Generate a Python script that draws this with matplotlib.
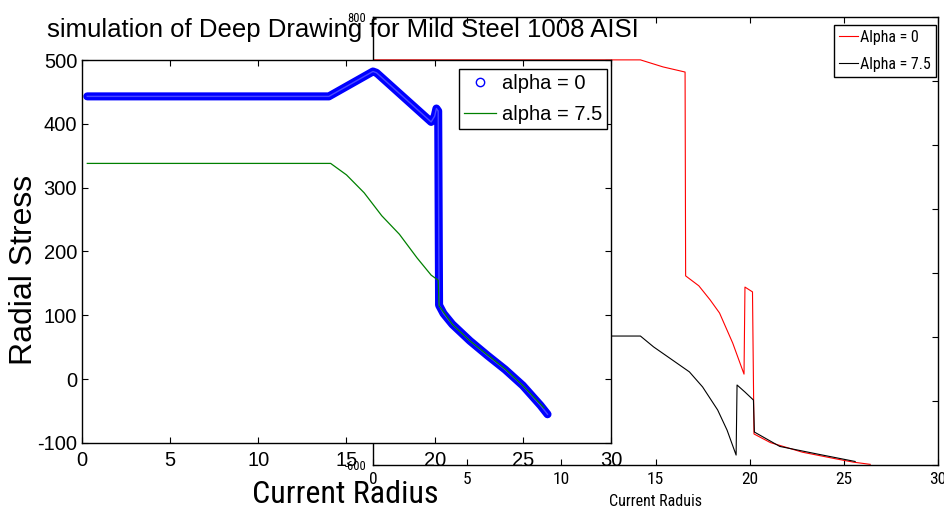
import matplotlib
matplotlib.use("Agg")
import matplotlib.pyplot as plt
from matplotlib.lines import Line2D
from matplotlib import font_manager as fm

# ---------------- data ----------------
# main axes, alpha = 0 (blue circles)
blue_x = [0.3, 14.0, 16.5, 16.7, 19.8, 20.0, 20.1, 20.2, 20.25, 20.5, 21.0, 22.0, 23.0, 24.0, 25.0, 26.0, 26.4]
blue_y = [443, 443, 482, 480, 403, 412, 424, 420, 116, 103, 86, 60, 37, 15, -10, -41, -55]
# main axes, alpha = 7.5 (green line)
green_x = [0.3, 14.1, 15.0, 16.0, 17.0, 18.0, 19.0, 19.8, 20.2, 20.25, 21.0, 22.0, 23.0, 24.0, 25.0, 26.0, 26.2]
green_y = [338, 338, 320, 292, 256, 227, 190, 163, 155, 115, 86, 60, 38, 16, -10, -39, -45]

# inset axes, Alpha = 0 (red)
red_x = [0.0, 14.2, 15.4, 16.57, 16.6, 17.3, 17.9, 18.4, 19.1, 19.7, 19.75, 20.15, 20.23, 21.1, 22.8, 24.6, 25.5, 26.4]
red_y = [666, 666, 644, 628, -9, -40, -84, -125, -219, -316, -44, -59, -503, -530, -560, -581, -591, -598]
# inset axes, Alpha = 7.5 (black)
black_x = [0.0, 14.2, 14.9, 15.9, 16.8, 17.5, 18.3, 18.8, 19.28, 19.33, 19.75, 20.2, 20.25, 21.6, 23.7, 25.6]
black_y = [-197, -197, -231, -272, -309, -356, -428, -491, -569, -350, -372, -397, -497, -542, -567, -589]

main_xticks = [0, 5, 10, 15, 20, 25, 30]
main_yticks = [-100, 0, 100, 200, 300, 400, 500]
inset_xticks = [0, 5, 10, 15, 20, 25, 30]
inset_yticks = [-600, -400, -200, 0, 200, 400, 600, 800]

title_text = "simulation of Deep Drawing for Mild Steel 1008 AISI"
main_xlabel = "Current Radius"
main_ylabel = "Radial Stress"
inset_xlabel = "Current Raduis"
main_labels = ["alpha = 0", "alpha = 7.5"]
inset_labels = ["Alpha = 0", "Alpha = 7.5"]


def pick(names):
    for n in names:
        try:
            fm.findfont(fm.FontProperties(family=n), fallback_to_default=False)
            return n
        except Exception:
            pass
    return "DejaVu Sans"


REG = pick(["Liberation Sans", "Arial", "DejaVu Sans"])
NAR = pick(["Liberation Sans Narrow", "Roboto Condensed", "DejaVu Sans Condensed", "Liberation Sans"])
plt.rcParams["font.family"] = [REG, "DejaVu Sans"]
plt.rcParams["axes.unicode_minus"] = False

W, H = 945, 512
fig = plt.figure(figsize=(W / 100, H / 100), dpi=100)
fig.patch.set_facecolor("white")

# ---------------- inset axes (behind) ----------------
ax2 = fig.add_axes([373 / W, 1 - 465 / H, 565 / W, 448 / H], zorder=1)
ax2.plot(red_x, red_y, color="#ff0000", lw=0.8)
ax2.plot(black_x, black_y, color="black", lw=0.8)
ax2.set_xlim(0, 30)
ax2.set_ylim(-600, 800)
ax2.set_xticks(inset_xticks)
ax2.set_yticks(inset_yticks)
ax2.tick_params(direction="in", length=4, width=0.8, top=True, right=True, pad=5)
for lab in ax2.get_xticklabels():
    lab.set_fontfamily([NAR, "DejaVu Sans"])
    lab.set_fontsize(12.5)
for lab in ax2.get_yticklabels():
    lab.set_fontfamily([NAR, "DejaVu Sans"])
    lab.set_fontsize(9)
for s in ax2.spines.values():
    s.set_linewidth(1.0)
ax2.set_xlabel(inset_xlabel, fontsize=11.5, family=[NAR, "DejaVu Sans"], labelpad=5)
leg2 = ax2.legend(
    inset_labels, loc="upper right", bbox_to_anchor=(936 / W, 1 - 25 / H),
    bbox_transform=fig.transFigure, borderaxespad=0, fancybox=False, framealpha=1,
    edgecolor="black", prop={"family": [NAR, "DejaVu Sans"], "size": 11.5},
    handlelength=1.2, handletextpad=0.15, labelspacing=0.75, borderpad=0.3,
)
leg2.get_frame().set_linewidth(1.0)

# ---------------- main axes (front) ----------------
ax = fig.add_axes([82 / W, 1 - 443 / H, 529 / W, 383 / H], zorder=2)
ax.set_facecolor("white")
ax.plot(blue_x, blue_y, color="#0000ff", lw=5.8, solid_joinstyle="round", solid_capstyle="round")
ax.plot(blue_x, blue_y, color="#7a7aff", lw=1.0, alpha=0.6)
ax.plot(green_x, green_y, color="#008000", lw=0.9)
ax.set_xlim(0, 30)
ax.set_ylim(-100, 500)
ax.set_xticks(main_xticks)
ax.set_yticks(main_yticks)
ax.tick_params(direction="in", length=4, width=0.8, top=True, right=True, labelsize=14.5)
ax.tick_params(axis="x", pad=6)
ax.tick_params(axis="y", pad=3.5)
for s in ax.spines.values():
    s.set_linewidth(1.0)

handles = [
    Line2D([], [], ls="none", marker="o", ms=6, mfc="none", mec="#0000ff", mew=1.0),
    Line2D([], [], color="#008000", lw=0.9),
]
leg = ax.legend(
    handles, main_labels, loc="upper right", bbox_to_anchor=(607 / W, 1 - 69 / H),
    bbox_transform=fig.transFigure, borderaxespad=0, fancybox=False, framealpha=1,
    edgecolor="black", fontsize=14.5, handlelength=1.55, handletextpad=0.3,
    labelspacing=0.6, borderpad=0.25,
)
leg.get_frame().set_linewidth(1.0)

ax.set_xlabel(main_xlabel, fontsize=23, family=[NAR, "DejaVu Sans"])
ax.xaxis.set_label_coords((345 - 82) / 529, -(503 - 443) / 383)
ax.xaxis.label.set_va("baseline")
ax.set_ylabel(main_ylabel, fontsize=23, rotation=90, rotation_mode="anchor", ha="center", va="baseline")
ax.yaxis.set_label_coords((32 - 82) / 529, (443 - 270) / 383)

fig.text(343 / W, 1 - 37 / H, title_text, ha="center", va="baseline", fontsize=18.5, zorder=10)

fig.savefig("out.png", dpi=100, facecolor="white")
